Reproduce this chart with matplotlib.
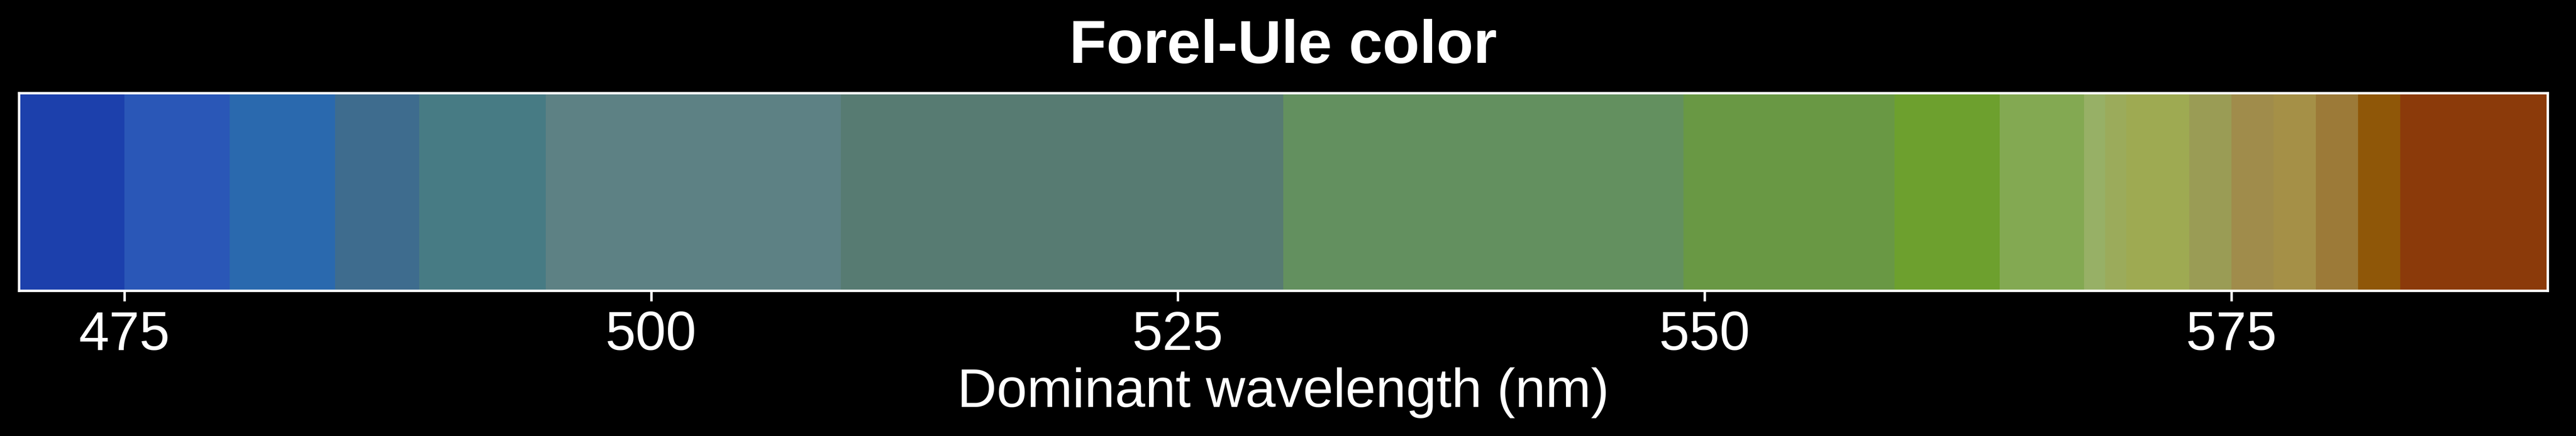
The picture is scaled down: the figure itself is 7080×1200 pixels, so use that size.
import matplotlib
matplotlib.use("Agg")
import matplotlib.pyplot as plt

plt.rcParams["font.family"] = ["Liberation Sans", "DejaVu Sans"]

# class edges of the Forel-Ule scale (nm)
edges = [470, 475, 480, 485, 489, 495, 509, 530, 549, 559, 564,
         568, 569, 570, 573, 575, 577, 579, 581, 583, 590]
fu_colors = [
    "#1c40ac", "#2a57b7", "#2a69ae", "#3e6c8e", "#477b84",
    "#5d8184", "#577b72", "#63905f", "#699844", "#6da02e",
    "#83a952", "#97b066", "#9bab5b", "#9eaa52", "#9a9c55",
    "#a08c4b", "#a59047", "#9c7a38", "#8f5708", "#8b3a0a",
]
ticks = [475, 500, 525, 550, 575]

fig, ax = plt.subplots(figsize=(11.8, 2))
fig.patch.set_facecolor("black")
ax.set_facecolor("black")
fig.subplots_adjust(left=52 / 7080, right=7002 / 7080, bottom=400 / 1200, top=944 / 1200)

widths = [b - a for a, b in zip(edges[:-1], edges[1:])]
ax.bar(edges[:-1], [1] * len(widths), width=widths, align="edge",
       color=fu_colors, linewidth=0)

ax.set_xlim(edges[0], edges[-1])
ax.set_ylim(0, 1)
ax.set_yticks([])
ax.set_xticks(ticks)
ax.tick_params(axis="x", colors="white", labelsize=18, pad=3)
for s in ax.spines.values():
    s.set_color("white")

ax.set_xlabel("Dominant wavelength (nm)", color="white", fontsize=18, labelpad=2)
ax.set_title("Forel-Ule color", color="white", fontsize=20, fontweight="bold", pad=10)

fig.savefig("out.png", dpi=600, facecolor="black")
